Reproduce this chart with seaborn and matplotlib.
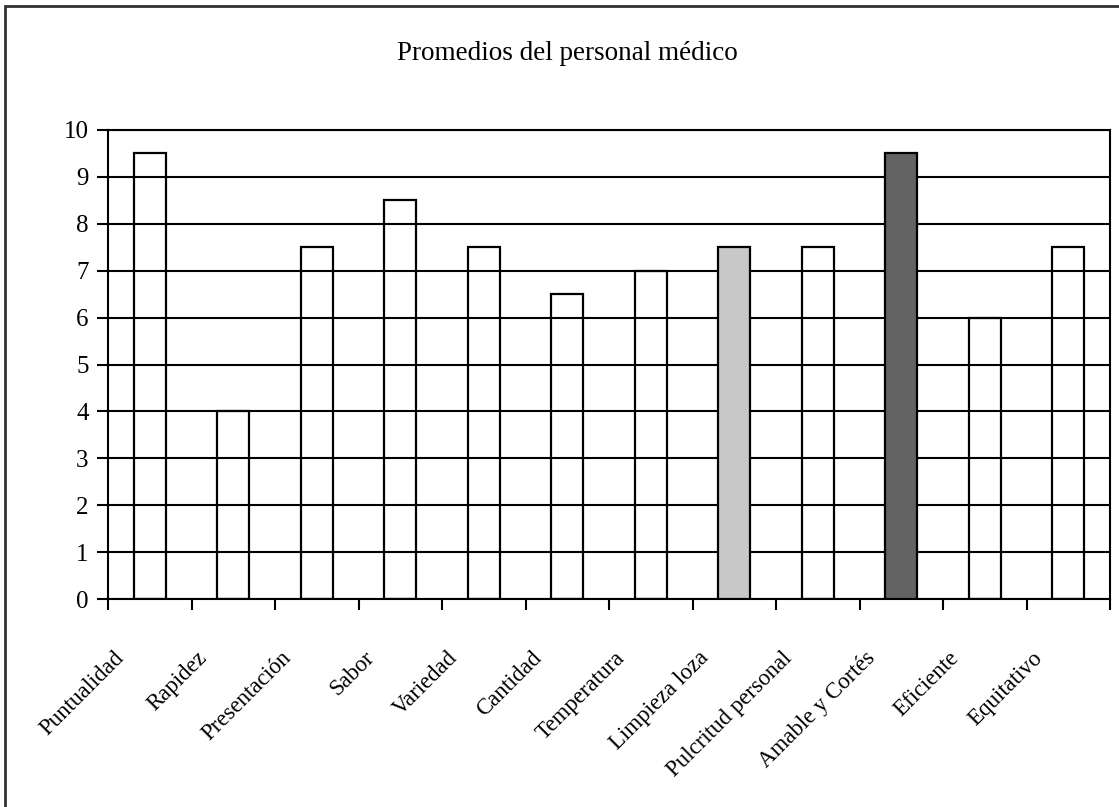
import matplotlib
matplotlib.use("Agg")
import matplotlib.pyplot as plt
import matplotlib.transforms as mtransforms
from matplotlib.patches import Rectangle
import numpy as np
import pandas as pd
import seaborn as sns

categorias = ["Puntualidad", "Rapidez", "Presentación", "Sabor", "Variedad",
              "Cantidad", "Temperatura", "Limpieza loza", "Pulcritud personal",
              "Amable y Cortés", "Eficiente", "Equitativo"]
promedios = [9.5, 4, 7.5, 8.5, 7.5, 6.5, 7, 7.5, 7.5, 9.5, 6, 7.5]
rellenos = ["none", "none", "none", "none", "none", "none", "none",
            "#c8c8c8", "none", "#636363", "none", "none"]
y_ticks = list(range(0, 11))
titulo = "Promedios del personal médico"

sns.set_style("white")
plt.rcParams["font.family"] = ["Liberation Serif", "DejaVu Serif"]
plt.rcParams["text.color"] = "black"
plt.rcParams["xtick.color"] = "black"
plt.rcParams["ytick.color"] = "black"

W, H = 1119, 807
fig = plt.figure(figsize=(W / 100, H / 100), dpi=100)
ax = fig.add_axes([108 / W, 1 - 599 / H, (1110 - 108) / W, (599 - 130) / H])

df = pd.DataFrame({"categoria": categorias, "promedio": promedios})
sns.barplot(data=df, x="categoria", y="promedio", ax=ax, width=0.38,
            color="white", edgecolor="black", linewidth=1.6, saturation=1)
for patch, fc in zip(ax.patches, rellenos):
    patch.set_facecolor(fc)
    patch.set_zorder(3)

ax.set_xlim(-0.5, len(categorias) - 0.5)
ax.set_ylim(0, 10)
ax.set_yticks(y_ticks)
ax.set_yticklabels([str(v) for v in y_ticks], fontsize=18)
ax.yaxis.grid(True, color="black", linewidth=1.5)
ax.set_axisbelow(True)
ax.tick_params(axis="y", length=8, width=1.5, color="black", pad=6, left=True)

# category labels at bar centres, tick marks at slot boundaries
ax.set_xticks(np.arange(len(categorias)))
ax.set_xticks(np.arange(len(categorias) + 1) - 0.5, minor=True)
ax.tick_params(axis="x", which="major", length=0, bottom=False)
ax.tick_params(axis="x", which="minor", length=8, width=1.5, color="black",
               bottom=True)
offset = mtransforms.ScaledTranslation(-29 / 100, -51 / 100, fig.dpi_scale_trans)
ax.set_xticklabels(categorias, rotation=45, ha="right", va="center",
                   rotation_mode="anchor", fontsize=16.5)
for lab in ax.get_xticklabels():
    lab.set_transform(lab.get_transform() + offset)

ax.set_xlabel("")
ax.set_ylabel("")
for side in ["left", "right", "top", "bottom"]:
    ax.spines[side].set_visible(True)
    ax.spines[side].set_color("black")
    ax.spines[side].set_linewidth(1.5)

fig.text(567 / W, 1 - 53 / H, titulo, ha="center", va="center", fontsize=19.5,
         color="black")

# outer frame of the chart area
fig.patches.append(Rectangle((5 / W, -0.05), 1.1, 1 - 6 / H + 0.05,
                             transform=fig.transFigure, fill=False,
                             edgecolor="#333333", linewidth=2))

fig.savefig("out.png", dpi=100, facecolor="white")
